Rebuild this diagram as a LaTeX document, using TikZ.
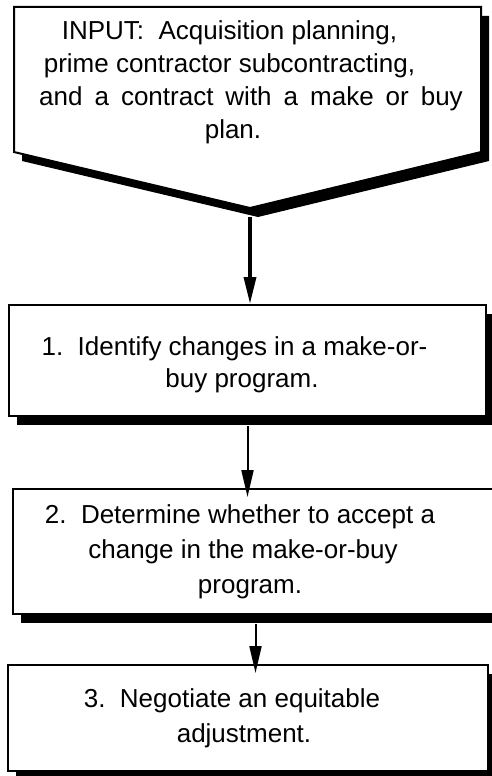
\documentclass[tikz,border=0pt]{standalone}
\usepackage{fontspec}
\setmainfont{Liberation Sans}
\usetikzlibrary{arrows.meta,shadows}
\begin{document}
\begin{tikzpicture}[x=1pt,y=-1pt,
  txt/.style={align=center,font=\fontsize{26pt}{33pt}\selectfont,inner sep=0pt},
  stepbox/.style={draw=black,line width=2pt,fill=white,rectangle,txt,
    drop shadow={shadow xshift=8pt,shadow yshift=-9pt,fill=black,opacity=1}},
  conn/.style={line width=2pt,-{Triangle[length=27pt,width=12pt]}}]
\useasboundingbox (0,0) rectangle (491,776);
% input shape with shadow
\fill[black] (22,16) -- (489,16) -- (489,161) -- (258,217) -- (22,161) -- cycle;
\draw[line width=2pt,fill=white] (14,7) -- (481,7) -- (481,152) -- (250,208) -- (14,152) -- cycle;
\coordinate (tipsh) at (250,217);
\node[txt] (inp) at (229.5,82) {INPUT:\ \ Acquisition planning,\\
prime contractor subcontracting,\\
\rule{43pt}{0pt}and\hspace{12pt}a\hspace{12pt}contract\hspace{12pt}with\hspace{12pt}a\hspace{12pt}make\hspace{12pt}or\hspace{12pt}buy\\
\rule{7pt}{0pt}plan.};
\node[stepbox,minimum width=477pt,minimum height=111pt,font=\fontsize{26pt}{32pt}\selectfont] (b1) at (247.5,360.5)
  {\rule{0pt}{27pt}1.\ \ Identify changes in a make-or-\rule{26pt}{0pt}\\ buy program.\rule{11pt}{0pt}};
\node[stepbox,minimum width=483pt,minimum height=125pt,font=\fontsize{26pt}{35pt}\selectfont] (b2) at (254.5,551.5)
  {2.\ \ Determine whether to accept a\rule{29pt}{0pt}\\ change in the make-or-buy\rule{23pt}{0pt}\\ program.\rule{9pt}{0pt}};
\node[stepbox,minimum width=480pt,minimum height=106pt,font=\fontsize{26pt}{35pt}\selectfont] (b3) at (248,718)
  {3.\ \ Negotiate an equitable\rule{32pt}{0pt}\\ adjustment.\rule{8pt}{0pt}};
\draw[conn,line width=3.5pt] (tipsh) -- (tipsh |- b1.north);
\draw[conn] ([yshift=-9pt]b1.south) -- ([yshift=-9pt]b1.south |- b2.north);
\draw[conn] ([yshift=-9pt,xshift=1pt]b2.south) -- ([yshift=-9pt,xshift=1pt]b2.south |- b3.north);
\end{tikzpicture}
\end{document}
